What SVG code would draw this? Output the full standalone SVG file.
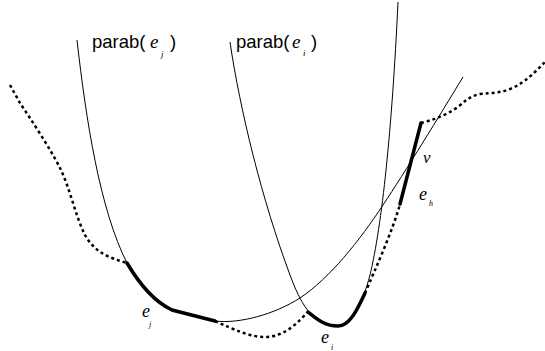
<svg xmlns="http://www.w3.org/2000/svg" width="545" height="351" viewBox="0 0 545 351">
<style>
.thin{fill:none;stroke:#000;stroke-width:1}
.bold{fill:none;stroke:#000;stroke-width:3.5;stroke-linecap:round}
.dot{fill:none;stroke:#000;stroke-width:2.5;stroke-dasharray:3 3}
.lab{font-family:"Liberation Sans",Arial,sans-serif;font-size:18.5px;fill:#000}
.it{font-family:"Liberation Serif","Times New Roman",serif;font-style:italic;fill:#000}
</style>
<rect width="545" height="351" fill="#fff"/>
<g id="connectors">
<path id="parab-ej" class="thin" d="M77,40 C86,120 100,210 127,263 C140,285 155,302 172,310 L215,321 C240,324 275,314 300,298 C330,278 360,240 383,205 C405,172 440,115 463,77"/>
<path id="parab-ei" class="thin" d="M230,42 C240,110 262,200 290,275 C300,302 312,325 335,326 C352,326 362,305 370,275 C382,225 392,130 398,2"/>
<path class="dot" d="M10,85 L20,103 C30,118 50,148 60,168 C70,188 75,215 85,235 C95,253 110,258 127,263"/>
<path class="dot" d="M215,321 C235,330 250,337 265,337 C285,337 298,322 308,312"/>
<path class="dot" d="M365,293 C375,270 393,230 400,204"/>
<path class="dot" d="M421,123 C432,120 445,116 458,107 C465,101 470,96 480,94 C492,93 500,93 510,89 C525,83 535,72 545,62"/>
</g>
<g id="edge-ej"><path class="bold" d="M127,263 C140,285 155,302 172,310 L215,321"/></g>
<g id="edge-ei"><path class="bold" d="M308,312 C318,320 325,326 338,326 C350,326 358,308 365,293"/></g>
<g id="edge-eh"><path class="bold" d="M400,204 L421,123"/></g>
<g id="label-parab-ej">
<text class="lab" x="92" y="48">parab(</text>
<text class="it" x="150" y="48" font-size="19">e</text>
<text class="it" x="161" y="57" font-size="9">j</text>
<text class="lab" x="170" y="48">)</text>
</g>
<g id="label-parab-ei">
<text class="lab" x="236" y="48">parab(</text>
<text class="it" x="292" y="48" font-size="19">e</text>
<text class="it" x="303" y="56" font-size="9">i</text>
<text class="lab" x="311" y="48">)</text>
</g>
<g id="label-ej"><text class="it" x="142" y="317" font-size="18">e</text><text class="it" x="149" y="327" font-size="8">j</text></g>
<g id="label-ei"><text class="it" x="321" y="343" font-size="18">e</text><text class="it" x="331" y="350" font-size="8">i</text></g>
<g id="label-v"><text class="it" x="423" y="163" font-size="17">v</text></g>
<g id="label-eh"><text class="it" x="419" y="200" font-size="18">e</text><text class="it" x="429" y="206" font-size="8">h</text></g>
</svg>
